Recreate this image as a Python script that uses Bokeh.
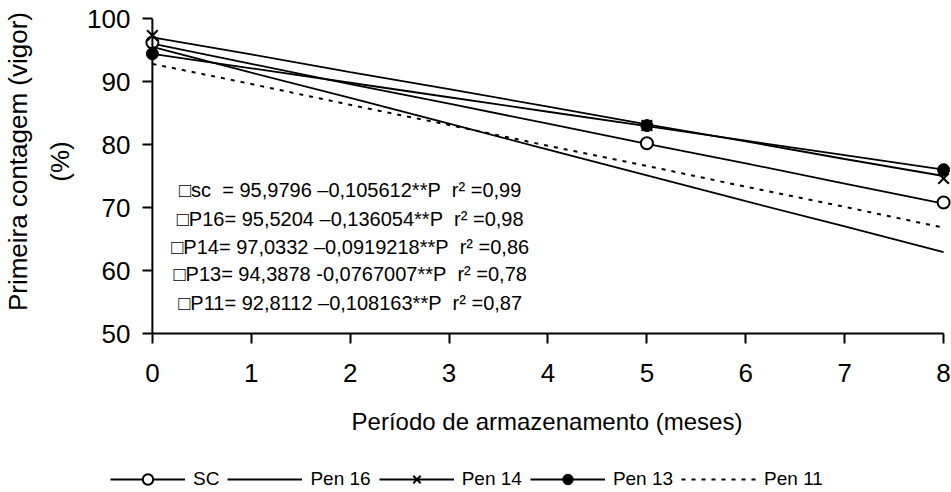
from bokeh.plotting import figure
from bokeh.layouts import column
from bokeh.models import Range1d, FixedTicker, Legend, LegendItem, Span
from bokeh.core.properties import value
from bokeh.embed import file_html
from bokeh.resources import INLINE

# ---- data ----
months = [0, 1, 2, 3, 4, 5, 6, 7, 8]
sc_line = [96.0, 92.8, 89.6, 86.5, 83.3, 80.1, 77.0, 73.8, 70.6]
pen16_line = [95.5, 91.4, 87.4, 83.3, 79.2, 75.1, 71.0, 67.0, 62.9]
pen14_line = [97.0, 94.3, 91.5, 88.8, 86.0, 83.2, 80.5, 77.7, 75.0]
pen13_line = [94.4, 92.1, 89.8, 87.5, 85.2, 82.9, 80.6, 78.3, 76.0]
pen11_line = [92.8, 89.6, 86.3, 83.1, 79.8, 76.6, 73.3, 70.1, 66.8]

obs_months = [0, 5, 8]
sc_obs = [96.2, 80.2, 70.8]
pen14_obs = [97.3, 83.0, 74.6]
pen13_obs = [94.4, 83.0, 76.0]

series_names = ["SC", "Pen 16", "Pen 14", "Pen 13", "Pen 11"]
x_ticks = [0, 1, 2, 3, 4, 5, 6, 7, 8]
y_ticks = [50, 60, 70, 80, 90, 100]

NB = "\u00a0"
equations = [
    "\u25a1sc" + NB + NB + "= 95,9796 \u20130,105612**P" + NB + NB + "r\u00b2 =0,99",
    "\u25a1P16= 95,5204 \u20130,136054**P" + NB + NB + "r\u00b2 =0,98",
    "\u25a1P14= 97,0332 \u20130,0919218**P" + NB + NB + "r\u00b2 =0,86",
    "\u25a1P13= 94,3878 -0,0767007**P" + NB + NB + "r\u00b2 =0,78",
    "\u25a1P11= 92,8112 \u20130,108163**P" + NB + NB + "r\u00b2 =0,87",
]
eq_y = [72.7, 68.25, 63.8, 59.4, 54.9]
eq_x = [2.0] * len(equations)

FONT = "Liberation Sans"

p = figure(width=951, height=462, output_backend="svg", toolbar_location=None,
           x_range=Range1d(-0.1, 8.08), y_range=Range1d(50, 100),
           min_border_left=139, min_border_right=0, min_border_top=18,
           min_border_bottom=129)
p.outline_line_color = None
p.grid.visible = False
p.background_fill_color = "white"
p.border_fill_color = "white"

for ax in (p.xaxis[0], p.yaxis[0]):
    ax.axis_line_width = 2
    ax.axis_line_color = "black"
    ax.major_tick_line_width = 2
    ax.major_tick_line_color = "black"
    ax.major_tick_in = 0
    ax.major_tick_out = 10
    ax.minor_tick_line_color = None
    ax.major_label_text_font = FONT
    ax.major_label_text_font_size = "26px"
    ax.major_label_text_color = "black"
    ax.axis_label_text_font = FONT
    ax.axis_label_text_font_style = "normal"
    ax.axis_label_text_color = "black"

p.xaxis[0].ticker = FixedTicker(ticks=x_ticks)
p.yaxis[0].ticker = FixedTicker(ticks=y_ticks)
p.xaxis[0].bounds = (0, 8)
# y axis sits at the frame edge; its ticks point inward up to x = 0
p.yaxis[0].axis_line_color = None
p.yaxis[0].major_tick_in = 10
p.yaxis[0].major_tick_out = 0
p.add_layout(Span(location=0, dimension="height", line_color="black", line_width=2))

p.xaxis[0].major_label_standoff = 20
p.yaxis[0].major_label_standoff = 12
p.xaxis[0].axis_label = "Per\u00edodo de armazenamento (meses)"
p.xaxis[0].axis_label_text_font_size = "24px"
p.xaxis[0].axis_label_standoff = 23
pad = NB * 4
p.yaxis[0].axis_label = pad + "Primeira contagem (vigor)\n" + pad + "(%)"
p.yaxis[0].axis_label_text_font_size = "26px"
p.yaxis[0].axis_label_standoff = 9
p.yaxis[0].axis_label_text_line_height = 1.4

LW = 1.8
r_sc = p.line(months, sc_line, line_color="black", line_width=LW)
m_sc = p.scatter(obs_months, sc_obs, marker="circle", size=12, fill_color="white",
                 line_color="black", line_width=2)
r_16 = p.line(months, pen16_line, line_color="black", line_width=LW)
r_14 = p.line(months, pen14_line, line_color="black", line_width=LW)
m_14 = p.scatter(obs_months, pen14_obs, marker="x", size=15, line_color="black", line_width=2)
r_13 = p.line(months, pen13_line, line_color="black", line_width=LW)
m_13 = p.scatter(obs_months, pen13_obs, marker="circle", size=12, fill_color="black",
                 line_color="black")
r_11 = p.line(months, pen11_line, line_color="black", line_width=2, line_dash="4 6")

p.text(x=eq_x, y=eq_y, text=equations, text_font=value(FONT), text_font_size="20px",
       text_align="center", text_baseline="middle", text_color="black")

# ---- legend strip below the chart ----
lg = figure(width=951, height=30, output_backend="svg", toolbar_location=None,
            x_range=Range1d(0, 1), y_range=Range1d(0, 1),
            x_axis_type=None, y_axis_type=None, min_border=0)
lg.outline_line_color = None
lg.grid.visible = False
if "frame_align" in lg.properties():
    lg.frame_align = False
    p.frame_align = False
off = [5, 6]  # legend proxies drawn outside the visible range
l_sc = lg.line(off, off, line_color="black", line_width=LW)
s_sc = lg.scatter(off, off, marker="circle", size=12, fill_color="white",
                  line_color="black", line_width=2)
l_16 = lg.line(off, off, line_color="black", line_width=LW)
l_14 = lg.line(off, off, line_color="black", line_width=LW)
s_14 = lg.scatter(off, off, marker="x", size=15, line_color="black", line_width=2)
l_13 = lg.line(off, off, line_color="black", line_width=LW)
s_13 = lg.scatter(off, off, marker="circle", size=12, fill_color="black", line_color="black")
l_11 = lg.line(off, off, line_color="black", line_width=2, line_dash="4 6")

legend = Legend(items=[
    LegendItem(label=series_names[0], renderers=[l_sc, s_sc]),
    LegendItem(label=series_names[1], renderers=[l_16]),
    LegendItem(label=series_names[2], renderers=[l_14, s_14]),
    LegendItem(label=series_names[3], renderers=[l_13, s_13]),
    LegendItem(label=series_names[4], renderers=[l_11]),
], orientation="horizontal", location=(110, 0))
legend.label_text_font = FONT
legend.label_text_font_size = "19px"
legend.label_text_color = "black"
legend.glyph_width = 75
legend.glyph_height = 26
legend.label_standoff = 8
legend.spacing = 8
legend.padding = 0
legend.margin = 0
legend.border_line_color = None
legend.background_fill_alpha = 0
lg.add_layout(legend, "center")

layout = column(p, lg, spacing=0)
open("out.html", "w").write(file_html(layout, INLINE))
